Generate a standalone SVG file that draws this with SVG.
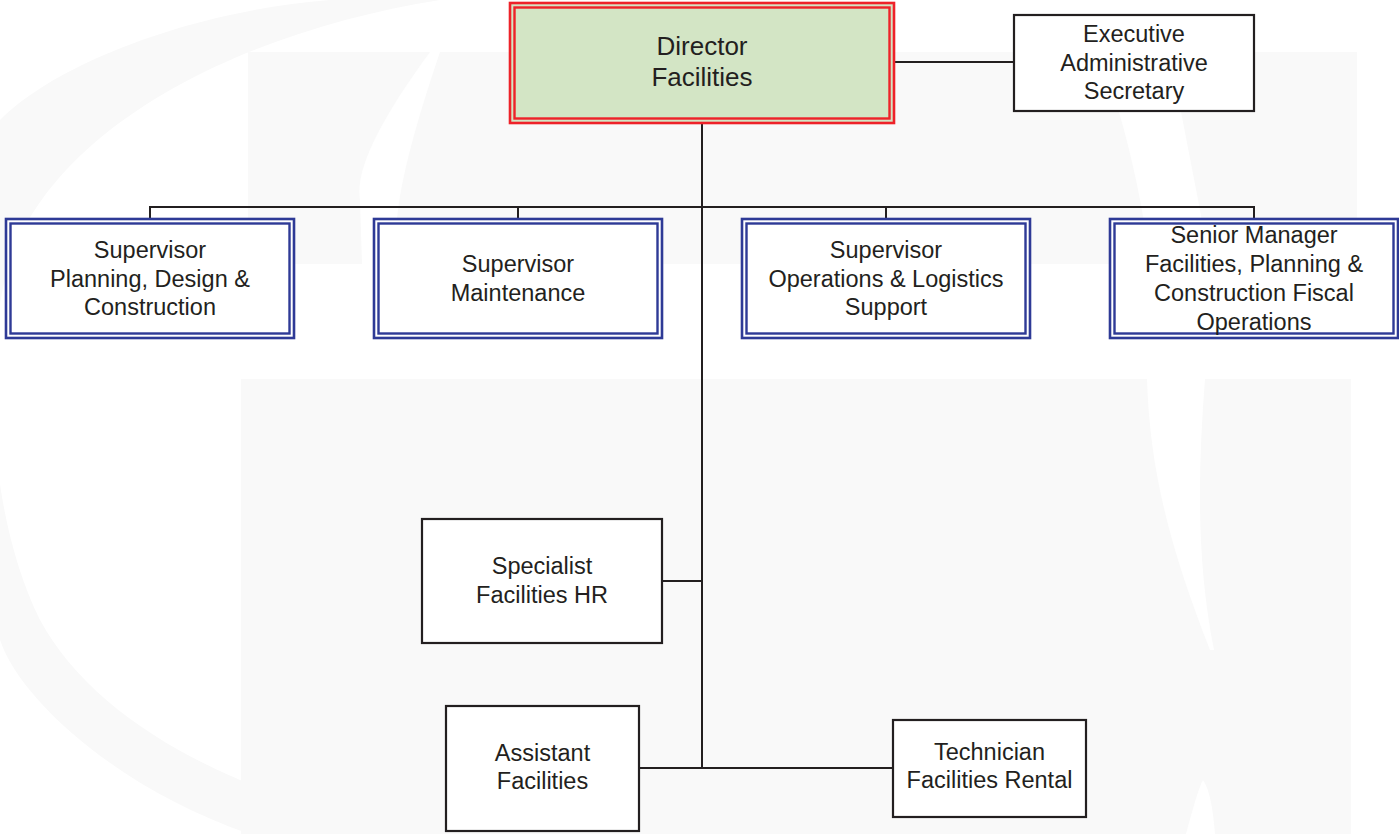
<svg xmlns="http://www.w3.org/2000/svg" width="1399" height="834" viewBox="0 0 1399 834">
  <defs>
    <style>
      .bg { fill: #f9f9f9; }
      .cut { fill: #ffffff; }
      .lbl { font-family: "Liberation Sans", Arial, sans-serif; font-size: 23.5px; fill: #231f20; text-anchor: middle; }
      .lbl-big { font-size: 26px; }
      .plain { fill: #ffffff; stroke: #231f20; stroke-width: 2.2; }
      .mgr-out { fill: #ffffff; stroke: #2e3a96; stroke-width: 2.6; }
      .mgr-in { fill: none; stroke: #2e3a96; stroke-width: 2.4; }
      .dir-out { fill: #d3e5c5; stroke: #ee2229; stroke-width: 2.6; }
      .dir-in { fill: none; stroke: #ee2229; stroke-width: 2.4; }
      .wire { fill: none; stroke: #231f20; stroke-width: 2; }
    </style>
  </defs>

  <rect width="1399" height="834" fill="#ffffff"/>

  <!-- faint watermark behind the chart -->
  <g id="watermark">
    <path class="bg" d="M 440,0 C 250,30 60,120 10,260 C -20,360 -10,520 40,620 C 100,730 250,800 420,834 L 250,834 C 120,790 20,700 0,640 L 0,120 C 60,60 200,10 330,0 Z"/>
    <rect class="bg" x="248" y="52" width="1109" height="212"/>
    <rect class="bg" x="241" y="379" width="1110" height="455"/>
    <path class="cut" d="M 430,52 C 380,120 355,170 360,200 L 362,264 L 400,264 C 390,230 400,170 440,52 Z"/>
    <path class="cut" d="M 1100,52 C 1120,110 1140,180 1150,264 L 1210,264 C 1195,180 1180,110 1170,52 Z"/>
    <path class="cut" d="M 1147,379 C 1150,480 1175,560 1210,650 L 1214,650 C 1196,560 1198,470 1205,379 Z"/>
    <path class="cut" d="M 1186,834 C 1195,800 1200,785 1203,780 C 1210,790 1213,810 1215,834 Z"/>
  </g>

  <!-- reporting lines -->
  <g id="connectors">
    <line class="wire" x1="702" y1="124" x2="702" y2="768"/>
    <line class="wire" x1="895" y1="62" x2="1014" y2="62"/>
    <polyline class="wire" points="150,218 150,207 1254,207 1254,218"/>
    <line class="wire" x1="518" y1="207" x2="518" y2="218"/>
    <line class="wire" x1="886" y1="207" x2="886" y2="218"/>
    <line class="wire" x1="662" y1="581" x2="702" y2="581"/>
    <line class="wire" x1="639" y1="768" x2="893" y2="768"/>
  </g>

  <g id="director">
    <rect class="dir-out" x="510" y="3" width="384" height="120"/>
    <rect class="dir-in" x="514.5" y="7.5" width="375" height="111"/>
    <text class="lbl lbl-big" x="702" y="55">Director</text>
    <text class="lbl lbl-big" x="702" y="86">Facilities</text>
  </g>

  <g id="exec-secretary">
    <rect class="plain" x="1014" y="15" width="240" height="96"/>
    <text class="lbl" x="1134" y="42">Executive</text>
    <text class="lbl" x="1134" y="70.5">Administrative</text>
    <text class="lbl" x="1134" y="99">Secretary</text>
  </g>

  <g id="sup-planning">
    <rect class="mgr-out" x="6" y="219" width="288" height="119"/>
    <rect class="mgr-in" x="10.5" y="223.5" width="279" height="110"/>
    <text class="lbl" x="150" y="258">Supervisor</text>
    <text class="lbl" x="150" y="286.5">Planning, Design &amp;</text>
    <text class="lbl" x="150" y="315">Construction</text>
  </g>

  <g id="sup-maintenance">
    <rect class="mgr-out" x="374" y="219" width="288" height="119"/>
    <rect class="mgr-in" x="378.5" y="223.5" width="279" height="110"/>
    <text class="lbl" x="518" y="272">Supervisor</text>
    <text class="lbl" x="518" y="301">Maintenance</text>
  </g>

  <g id="sup-operations">
    <rect class="mgr-out" x="742" y="219" width="288" height="119"/>
    <rect class="mgr-in" x="746.5" y="223.5" width="279" height="110"/>
    <text class="lbl" x="886" y="258">Supervisor</text>
    <text class="lbl" x="886" y="286.5">Operations &amp; Logistics</text>
    <text class="lbl" x="886" y="315">Support</text>
  </g>

  <g id="sr-manager-fiscal">
    <rect class="mgr-out" x="1110" y="219" width="288" height="119"/>
    <rect class="mgr-in" x="1114.5" y="223.5" width="279" height="110"/>
    <text class="lbl" x="1254" y="243">Senior Manager</text>
    <text class="lbl" x="1254" y="272">Facilities, Planning &amp;</text>
    <text class="lbl" x="1254" y="301">Construction Fiscal</text>
    <text class="lbl" x="1254" y="330">Operations</text>
  </g>

  <g id="specialist-hr">
    <rect class="plain" x="422" y="519" width="240" height="124"/>
    <text class="lbl" x="542" y="574">Specialist</text>
    <text class="lbl" x="542" y="603">Facilities HR</text>
  </g>

  <g id="assistant">
    <rect class="plain" x="446" y="706" width="193" height="125"/>
    <text class="lbl" x="542.5" y="761">Assistant</text>
    <text class="lbl" x="542.5" y="789">Facilities</text>
  </g>

  <g id="technician-rental">
    <rect class="plain" x="893" y="720" width="193" height="97"/>
    <text class="lbl" x="989.5" y="760">Technician</text>
    <text class="lbl" x="989.5" y="788">Facilities Rental</text>
  </g>
</svg>
